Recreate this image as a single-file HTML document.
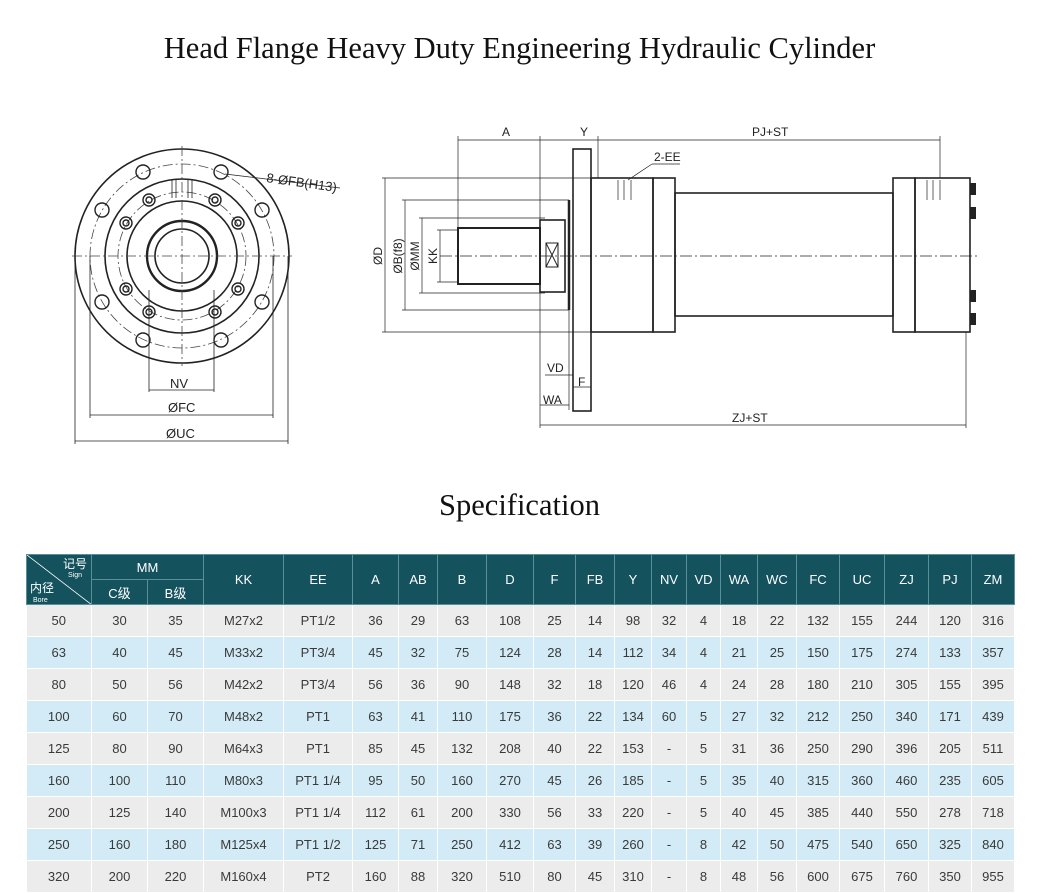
<!DOCTYPE html>
<html><head><meta charset="utf-8"><style>
body{margin:0;width:1039px;height:893px;background:#fff;position:relative;overflow:hidden;font-family:"Liberation Sans","Noto Sans CJK SC",sans-serif}
.t{position:absolute;left:0;width:1039px;text-align:center;font-family:"Liberation Serif","Noto Serif CJK SC",serif;color:#111}
table{position:absolute;left:26px;top:554px;border-collapse:collapse;table-layout:fixed;font-size:13px;color:#3a3a3a}
td,th{text-align:center;padding:0;border-right:1px solid #fff;overflow:hidden;white-space:nowrap}
th{background:#14525e;color:#fff;font-weight:normal;border:1px solid #5a8f99}
tr.a td{background:#ececec;height:31px}
tr.b td{background:#d3ebf6;height:31px}
tr.a,tr.b{border-top:1px solid #fff}
</style></head><body>
<div class="t" style="top:31px;font-size:30.5px">Head Flange Heavy Duty Engineering Hydraulic Cylinder</div>
<div class="t" style="top:488px;font-size:30.5px">Specification</div>
<svg width="1039" height="470" style="position:absolute;left:0;top:0" font-family="Liberation Sans,sans-serif" font-size="12" fill="none" stroke="#222">
<g stroke-width="1.6">
<circle cx="182" cy="256" r="107"/>
<circle cx="182" cy="256" r="77"/>
<circle cx="182" cy="256" r="55"/>
<circle cx="182" cy="256" r="35" stroke-width="2.4"/>
<circle cx="182" cy="256" r="27"/>
</g>
<g stroke-width="0.8" stroke-dasharray="10,3,2,3" stroke="#444">
<circle cx="182" cy="256" r="92"/>
<circle cx="182" cy="256" r="64"/>
<line x1="72" y1="256" x2="292" y2="256"/><line x1="182" y1="146" x2="182" y2="366"/>
</g>
<g stroke-width="1.4">
<circle cx="143" cy="172" r="7"/><circle cx="221" cy="172" r="7"/><circle cx="143" cy="340" r="7"/><circle cx="221" cy="340" r="7"/>
<circle cx="102" cy="210" r="7"/><circle cx="262" cy="210" r="7"/><circle cx="102" cy="302" r="7"/><circle cx="262" cy="302" r="7"/>
<circle cx="149" cy="200" r="6"/><circle cx="215" cy="200" r="6"/><circle cx="149" cy="312" r="6"/><circle cx="215" cy="312" r="6"/>
<circle cx="126" cy="223" r="6"/><circle cx="238" cy="223" r="6"/><circle cx="126" cy="289" r="6"/><circle cx="238" cy="289" r="6"/>
<circle cx="149" cy="200" r="3"/><circle cx="215" cy="200" r="3"/><circle cx="149" cy="312" r="3"/><circle cx="215" cy="312" r="3"/>
<circle cx="126" cy="223" r="3"/><circle cx="238" cy="223" r="3"/><circle cx="126" cy="289" r="3"/><circle cx="238" cy="289" r="3"/>
</g>
<g stroke-width="0.8"><line x1="172" y1="180" x2="172" y2="198"/><line x1="176" y1="180" x2="176" y2="198"/><line x1="188" y1="180" x2="188" y2="198"/><line x1="192" y1="180" x2="192" y2="198"/>
<line x1="225" y1="174" x2="340" y2="188"/>
<line x1="149" y1="290" x2="149" y2="392"/><line x1="214" y1="290" x2="214" y2="392"/><line x1="149" y1="390" x2="214" y2="390"/>
<line x1="90" y1="256" x2="90" y2="418"/><line x1="273" y1="256" x2="273" y2="418"/><line x1="90" y1="415" x2="273" y2="415"/>
<line x1="75" y1="256" x2="75" y2="444"/><line x1="288" y1="256" x2="288" y2="444"/><line x1="75" y1="441" x2="288" y2="441"/></g>
<g fill="#222" stroke="none" font-size="13">
<text x="266" y="182" transform="rotate(8 266 182)">8-ØFB(H13)</text>
<text x="170" y="388">NV</text><text x="168" y="412">ØFC</text><text x="166" y="438">ØUC</text>
</g>
<g stroke-width="1.6">
<rect x="573" y="149" width="18" height="262"/>
<rect x="591" y="178" width="62" height="154"/>
<rect x="653" y="178" width="22" height="154"/>
<rect x="675" y="193" width="218" height="123"/>
<rect x="893" y="178" width="22" height="154"/>
<rect x="915" y="178" width="55" height="154"/>
<rect x="458" y="228" width="82" height="56" stroke-width="2"/>
<rect x="540" y="220" width="25" height="72"/>
<rect x="546" y="243" width="12" height="24" stroke-width="1"/>
<line x1="546" y1="243" x2="558" y2="267" stroke-width="1"/><line x1="558" y1="243" x2="546" y2="267" stroke-width="1"/>
<line x1="569" y1="200" x2="569" y2="310" stroke-width="2.5"/>
</g>
<g fill="#222" stroke="none">
<rect x="970" y="183" width="6" height="12"/><rect x="970" y="207" width="6" height="12"/><rect x="970" y="290" width="6" height="12"/><rect x="970" y="313" width="6" height="12"/>
</g>
<g stroke-width="0.8" stroke-dasharray="12,3,2,3"><line x1="440" y1="256" x2="980" y2="256"/></g>
<g stroke-width="0.7">
<line x1="618" y1="180" x2="618" y2="200"/><line x1="624" y1="180" x2="624" y2="200"/><line x1="631" y1="180" x2="631" y2="200"/>
<line x1="927" y1="180" x2="927" y2="200"/><line x1="933" y1="180" x2="933" y2="200"/><line x1="940" y1="180" x2="940" y2="200"/>
<line x1="628" y1="180" x2="652" y2="164"/><line x1="652" y1="164" x2="680" y2="164"/>
<line x1="458" y1="140" x2="940" y2="140"/>
<line x1="458" y1="136" x2="458" y2="228"/><line x1="540" y1="136" x2="540" y2="428"/><line x1="598" y1="136" x2="598" y2="178"/><line x1="940" y1="136" x2="940" y2="178"/>
<line x1="540" y1="425" x2="966" y2="425"/><line x1="966" y1="332" x2="966" y2="428"/>
<line x1="385" y1="178" x2="385" y2="332"/><line x1="382" y1="178" x2="591" y2="178"/><line x1="382" y1="332" x2="591" y2="332"/>
<line x1="405" y1="200" x2="405" y2="310"/><line x1="402" y1="200" x2="569" y2="200"/><line x1="402" y1="310" x2="569" y2="310"/>
<line x1="422" y1="218" x2="422" y2="293"/><line x1="419" y1="218" x2="545" y2="218"/><line x1="419" y1="293" x2="545" y2="293"/>
<line x1="440" y1="230" x2="440" y2="282"/><line x1="437" y1="230" x2="458" y2="230"/><line x1="437" y1="282" x2="458" y2="282"/>
<line x1="573" y1="411" x2="573" y2="390"/><line x1="591" y1="411" x2="591" y2="390"/><line x1="573" y1="387" x2="591" y2="387"/>
<line x1="569" y1="310" x2="569" y2="410"/><line x1="540" y1="405" x2="569" y2="405"/><line x1="545" y1="375" x2="573" y2="375"/>
</g>
<g fill="#222" stroke="none" font-size="12">
<text x="502" y="136">A</text><text x="580" y="136">Y</text><text x="752" y="136">PJ+ST</text><text x="654" y="161">2-EE</text>
<text x="732" y="422">ZJ+ST</text><text x="547" y="372">VD</text><text x="578" y="386">F</text><text x="543" y="404">WA</text>
<text transform="translate(382 256) rotate(-90)" text-anchor="middle">ØD</text>
<text transform="translate(402 256) rotate(-90)" text-anchor="middle">ØB(f8)</text>
<text transform="translate(419 256) rotate(-90)" text-anchor="middle">ØMM</text>
<text transform="translate(437 256) rotate(-90)" text-anchor="middle">KK</text>
</g>
</svg>
<table>
<colgroup><col style="width:65px"><col style="width:56px"><col style="width:56px"><col style="width:80px"><col style="width:69px"><col style="width:46px"><col style="width:39px"><col style="width:49px"><col style="width:47px"><col style="width:42px"><col style="width:39px"><col style="width:37px"><col style="width:35px"><col style="width:34px"><col style="width:37px"><col style="width:39px"><col style="width:43px"><col style="width:45px"><col style="width:44px"><col style="width:43px"><col style="width:43px"></colgroup>
<tr style="height:25px"><th rowspan="2" style="position:relative;font-size:11px"><svg width="65" height="50" style="position:absolute;left:0;top:0"><line x1="0" y1="0" x2="65" y2="50" stroke="#fff" stroke-width="0.8"/><text x="60" y="13" fill="#fff" font-size="12" text-anchor="end" font-family="Noto Sans CJK SC">记号</text><text x="55" y="22" fill="#fff" font-size="7" text-anchor="end">Sign</text><text x="3" y="37" fill="#fff" font-size="12" font-family="Noto Sans CJK SC">内径</text><text x="6" y="47" fill="#fff" font-size="7">Bore</text></svg></th><th colspan="2">MM</th><th rowspan="2">KK</th><th rowspan="2">EE</th><th rowspan="2">A</th><th rowspan="2">AB</th><th rowspan="2">B</th><th rowspan="2">D</th><th rowspan="2">F</th><th rowspan="2">FB</th><th rowspan="2">Y</th><th rowspan="2">NV</th><th rowspan="2">VD</th><th rowspan="2">WA</th><th rowspan="2">WC</th><th rowspan="2">FC</th><th rowspan="2">UC</th><th rowspan="2">ZJ</th><th rowspan="2">PJ</th><th rowspan="2">ZM</th></tr>
<tr style="height:25px"><th>C级</th><th>B级</th></tr>
<tr class="a"><td>50</td><td>30</td><td>35</td><td>M27x2</td><td>PT1/2</td><td>36</td><td>29</td><td>63</td><td>108</td><td>25</td><td>14</td><td>98</td><td>32</td><td>4</td><td>18</td><td>22</td><td>132</td><td>155</td><td>244</td><td>120</td><td>316</td></tr>
<tr class="b"><td>63</td><td>40</td><td>45</td><td>M33x2</td><td>PT3/4</td><td>45</td><td>32</td><td>75</td><td>124</td><td>28</td><td>14</td><td>112</td><td>34</td><td>4</td><td>21</td><td>25</td><td>150</td><td>175</td><td>274</td><td>133</td><td>357</td></tr>
<tr class="a"><td>80</td><td>50</td><td>56</td><td>M42x2</td><td>PT3/4</td><td>56</td><td>36</td><td>90</td><td>148</td><td>32</td><td>18</td><td>120</td><td>46</td><td>4</td><td>24</td><td>28</td><td>180</td><td>210</td><td>305</td><td>155</td><td>395</td></tr>
<tr class="b"><td>100</td><td>60</td><td>70</td><td>M48x2</td><td>PT1</td><td>63</td><td>41</td><td>110</td><td>175</td><td>36</td><td>22</td><td>134</td><td>60</td><td>5</td><td>27</td><td>32</td><td>212</td><td>250</td><td>340</td><td>171</td><td>439</td></tr>
<tr class="a"><td>125</td><td>80</td><td>90</td><td>M64x3</td><td>PT1</td><td>85</td><td>45</td><td>132</td><td>208</td><td>40</td><td>22</td><td>153</td><td>-</td><td>5</td><td>31</td><td>36</td><td>250</td><td>290</td><td>396</td><td>205</td><td>511</td></tr>
<tr class="b"><td>160</td><td>100</td><td>110</td><td>M80x3</td><td>PT1 1/4</td><td>95</td><td>50</td><td>160</td><td>270</td><td>45</td><td>26</td><td>185</td><td>-</td><td>5</td><td>35</td><td>40</td><td>315</td><td>360</td><td>460</td><td>235</td><td>605</td></tr>
<tr class="a"><td>200</td><td>125</td><td>140</td><td>M100x3</td><td>PT1 1/4</td><td>112</td><td>61</td><td>200</td><td>330</td><td>56</td><td>33</td><td>220</td><td>-</td><td>5</td><td>40</td><td>45</td><td>385</td><td>440</td><td>550</td><td>278</td><td>718</td></tr>
<tr class="b"><td>250</td><td>160</td><td>180</td><td>M125x4</td><td>PT1 1/2</td><td>125</td><td>71</td><td>250</td><td>412</td><td>63</td><td>39</td><td>260</td><td>-</td><td>8</td><td>42</td><td>50</td><td>475</td><td>540</td><td>650</td><td>325</td><td>840</td></tr>
<tr class="a"><td>320</td><td>200</td><td>220</td><td>M160x4</td><td>PT2</td><td>160</td><td>88</td><td>320</td><td>510</td><td>80</td><td>45</td><td>310</td><td>-</td><td>8</td><td>48</td><td>56</td><td>600</td><td>675</td><td>760</td><td>350</td><td>955</td></tr>
</table>
</body></html>
